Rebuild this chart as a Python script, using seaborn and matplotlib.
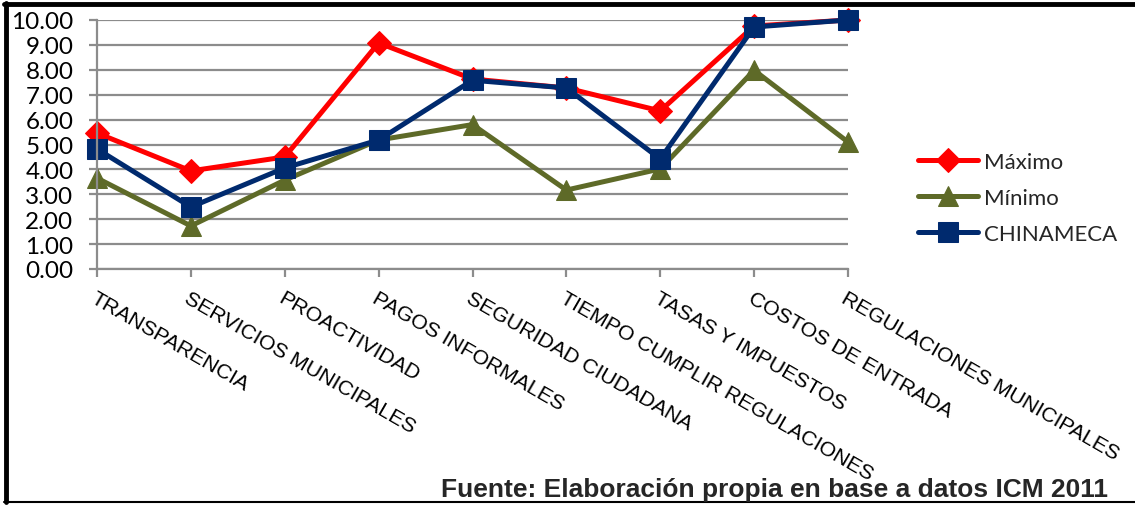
import matplotlib
matplotlib.use('Agg')
import matplotlib.pyplot as plt
import seaborn as sns
from matplotlib.lines import Line2D

sns.set_theme(style="white")

categories = ['TRANSPARENCIA', 'SERVICIOS MUNICIPALES', 'PROACTIVIDAD', 'PAGOS INFORMALES',
              'SEGURIDAD CIUDADANA', 'TIEMPO CUMPLIR REGULACIONES', 'TASAS Y IMPUESTOS',
              'COSTOS DE ENTRADA', 'REGULACIONES MUNICIPALES']
maximo = [5.46, 3.94, 4.50, 9.08, 7.63, 7.27, 6.35, 9.76, 10.00]
minimo = [3.65, 1.73, 3.57, 5.18, 5.80, 3.17, 4.02, 7.98, 5.10]
chinameca = [4.82, 2.49, 4.06, 5.18, 7.58, 7.27, 4.42, 9.72, 10.00]
yticks = [0, 1, 2, 3, 4, 5, 6, 7, 8, 9, 10]

W, H = 1135, 506
fig = plt.figure(figsize=(W / 100, H / 100), dpi=100)
ax = fig.add_axes([97 / W, 1 - 270 / H, (848 - 97) / W, (270 - 21) / H])

pos = list(range(len(categories)))
series = [
    ('Máximo', maximo, '#FF0000', 'D', 12.5),
    ('Mínimo', minimo, '#5E6A28', '^', 14.5),
    ('CHINAMECA', chinameca, '#002A6E', 's', 14),
]
for name, vals, color, mk, ms in series:
    sns.lineplot(x=pos, y=vals, ax=ax, color=color, marker=mk, markersize=ms,
                 markeredgecolor=color, linewidth=3.6, label=name, clip_on=False)

ax.set_xlim(0, len(categories) - 1)
ax.set_ylim(0, 10)
ax.set_yticks(yticks)
ax.set_yticklabels([f'{v:.2f}' for v in yticks], family='Lato', fontsize=17.5)
ax.set_xticks(pos)
ax.set_xticklabels(categories, rotation=-30, ha='left', va='top',
                   rotation_mode='anchor', family='Liberation Sans', fontsize=15.3)
ax.yaxis.grid(True, color='#8C8C8C', linewidth=1.6)
ax.xaxis.grid(False)
for s in ['top', 'right']:
    ax.spines[s].set_visible(False)
for s in ['left', 'bottom']:
    ax.spines[s].set_color('#8C8C8C')
    ax.spines[s].set_linewidth(1.6)
ax.tick_params(axis='both', direction='out', length=6, width=1.6, color='#8C8C8C',
               labelcolor='black', bottom=True, left=True)
ax.tick_params(axis='y', pad=11)
ax.tick_params(axis='x', pad=8)
ax.set_xlabel('')
ax.set_ylabel('')

leg = ax.legend(loc='center left', bbox_to_anchor=(918 / W, 1 - 199 / H),
                bbox_transform=fig.transFigure, frameon=False, borderpad=0,
                borderaxespad=0, handlelength=2.7, handletextpad=0.25,
                labelspacing=0.72, prop={'family': 'Lato', 'size': 16})

fig.text(1108 / W, 1 - 497 / H, 'Fuente: Elaboración propia en base a datos ICM 2011',
         ha='right', va='baseline', family='Liberation Sans', weight='bold', fontsize=19)

# frame around the figure
fig.add_artist(Line2D([6 / W, 6 / W], [1 - 4 / H, 1 - 503 / H], transform=fig.transFigure,
                      color='black', linewidth=3.5))
fig.add_artist(Line2D([4 / W, 1], [1 - 4.5 / H, 1 - 4.5 / H], transform=fig.transFigure,
                      color='black', linewidth=3.5))
fig.add_artist(Line2D([4 / W, 1], [1 - 503 / H, 1 - 503 / H], transform=fig.transFigure,
                      color='black', linewidth=1.5))

fig.savefig('out.png', dpi=100, facecolor='white')
